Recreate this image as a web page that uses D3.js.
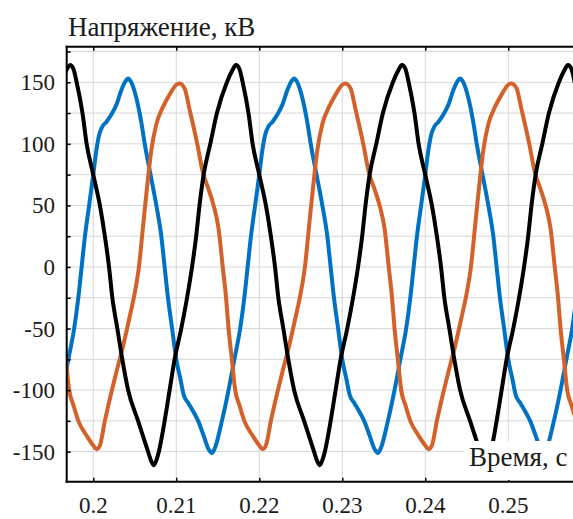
<!DOCTYPE html>
<html lang="ru">
<head>
<meta charset="UTF-8">
<title>Напряжение</title>
<script src="https://d3js.org/d3.v7.min.js"></script>
<style>
  body { margin: 0; background: #fff; }
</style>
</head>
<body>
<div id="chart"></div>
<script>
// values: time in s, voltage in kV
const tBlack = [0.1961,0.1967,0.1972,0.1976,0.1980,0.1987,0.1992,0.2000,0.2008,0.2014,0.2019,0.2023,0.2029,0.2035,0.2042,0.2054,0.2066,0.2070,0.2073,0.2076,0.2079,0.2086,0.2092,0.2098,0.2106,0.2113,0.2119,0.2124,0.2128,0.2133,0.2141,0.2149,0.2161,0.2167,
  0.2172,0.2176,0.2180,0.2187,0.2192,0.2200,0.2208,0.2214,0.2219,0.2223,0.2229,0.2235,0.2242,0.2254,0.2266,0.2270,0.2273,0.2276,0.2279,0.2286,0.2292,0.2298,0.2306,0.2313,0.2319,0.2324,0.2328,0.2333,0.2341,0.2349,0.2361,0.2367,
  0.2372,0.2376,0.2380,0.2387,0.2392,0.2400,0.2408,0.2414,0.2419,0.2423,0.2429,0.2435,0.2442,0.2454,0.2466,0.2470,0.2473,0.2476,0.2479,0.2486,0.2492,0.2498,0.2506,0.2513,0.2519,0.2524,0.2528,0.2533,0.2541,0.2549,0.2561,0.2567,
  0.2572,0.2576,0.2580];
const vBlack = [150,159,164,161,150,125,100,75,50,25,0,-25,-50,-75,-100,-125,-150,-158,-161,-157,-150,-125,-100,-75,-50,-25,0,25,50,75,100,125,150,159,
  164,161,150,125,100,75,50,25,0,-25,-50,-75,-100,-125,-150,-158,-161,-157,-150,-125,-100,-75,-50,-25,0,25,50,75,100,125,150,159,
  164,161,150,125,100,75,50,25,0,-25,-50,-75,-100,-125,-150,-158,-161,-157,-150,-125,-100,-75,-50,-25,0,25,50,75,100,125,150,159,
  164,161,150];

const tBlue = [0.1963,0.1970,0.1977,0.1982,0.1986,0.1990,0.1995,0.2000,0.2004,0.2007,0.2011,0.2016,0.2022,0.2028,0.2034,0.2040,0.2042,0.2045,0.2052,0.2058,0.2062,0.2069,0.2076,0.2082,0.2086,0.2090,0.2095,0.2100,0.2105,0.2109,0.2115,0.2121,0.2127,0.2133,0.2139,0.2143,0.2146,0.2155,
  0.2163,0.2170,0.2177,0.2182,0.2186,0.2190,0.2195,0.2200,0.2204,0.2207,0.2211,0.2216,0.2222,0.2228,0.2234,0.2240,0.2242,0.2245,0.2252,0.2258,0.2262,0.2269,0.2276,0.2282,0.2286,0.2290,0.2295,0.2300,0.2305,0.2309,0.2315,0.2321,0.2327,0.2333,0.2339,0.2343,0.2346,0.2355,
  0.2363,0.2370,0.2377,0.2382,0.2386,0.2390,0.2395,0.2400,0.2404,0.2407,0.2411,0.2416,0.2422,0.2428,0.2434,0.2440,0.2442,0.2445,0.2452,0.2458,0.2462,0.2469,0.2476,0.2482,0.2486,0.2490,0.2495,0.2500,0.2505,0.2509,0.2515,0.2521,0.2527,0.2533,0.2539,0.2543,0.2546,0.2555,
  0.2563,0.2570,0.2577,0.2582];
const vBlue = [-100,-75,-50,-25,0,25,50,75,96,107,114,118,124,132,144,152,153,151,137,117,100,75,50,25,0,-25,-50,-75,-91,-104,-111,-118,-126,-137,-148,-151,-148,-125,
  -100,-75,-50,-25,0,25,50,75,96,107,114,118,124,132,144,152,153,151,137,117,100,75,50,25,0,-25,-50,-75,-91,-104,-111,-118,-126,-137,-148,-151,-148,-125,
  -100,-75,-50,-25,0,25,50,75,96,107,114,118,124,132,144,152,153,151,137,117,100,75,50,25,0,-25,-50,-75,-91,-104,-111,-118,-126,-137,-148,-151,-148,-125,
  -100,-75,-50,-25];

const tOrange = [0.1956,0.1960,0.1963,0.1967,0.1971,0.1976,0.1982,0.1992,0.2000,0.2004,0.2008,0.2014,0.2020,0.2028,0.2036,0.2044,0.2050,0.2055,0.2060,0.2065,0.2070,0.2076,0.2084,0.2092,0.2100,0.2104,0.2110,0.2116,0.2125,0.2132,0.2139,0.2145,0.2151,
  0.2156,0.2160,0.2163,0.2167,0.2171,0.2176,0.2182,0.2192,0.2200,0.2204,0.2208,0.2214,0.2220,0.2228,0.2236,0.2244,0.2250,0.2255,0.2260,0.2265,0.2270,0.2276,0.2284,0.2292,0.2300,0.2304,0.2310,0.2316,0.2325,0.2332,0.2339,0.2345,0.2351,
  0.2356,0.2360,0.2363,0.2367,0.2371,0.2376,0.2382,0.2392,0.2400,0.2404,0.2408,0.2414,0.2420,0.2428,0.2436,0.2444,0.2450,0.2455,0.2460,0.2465,0.2470,0.2476,0.2484,0.2492,0.2500,0.2504,0.2510,0.2516,0.2525,0.2532,0.2539,0.2545,0.2551,
  0.2556,0.2560,0.2563,0.2567,0.2571,0.2576,0.2582];
const vOrange = [0,-25,-50,-75,-100,-112,-125,-137,-145,-148,-145,-125,-107,-85,-64,-40,-21,0,33,66,95,116,130,140,148,149,145,128,101,77,63,50,31,
  0,-25,-50,-75,-100,-112,-125,-137,-145,-148,-145,-125,-107,-85,-64,-40,-21,0,33,66,95,116,130,140,148,149,145,128,101,77,63,50,31,
  0,-25,-50,-75,-100,-112,-125,-137,-145,-148,-145,-125,-107,-85,-64,-40,-21,0,33,66,95,116,130,140,148,149,145,128,101,77,63,50,31,
  0,-25,-50,-75,-100,-112,-125];

const xTicks = [0.2, 0.21, 0.22, 0.23, 0.24, 0.25];
const xTickLabels = ["0.2", "0.21", "0.22", "0.23", "0.24", "0.25"];
const yTicks = [-150, -100, -50, 0, 50, 100, 150];
const yGrid = [-150, -125, -100, -75, -50, -25, 0, 25, 50, 75, 100, 125, 150, 175];

const series = [
  { t: tBlue, v: vBlue, color: "#0072C4" },
  { t: tOrange, v: vOrange, color: "#D2622A" },
  { t: tBlack, v: vBlack, color: "#000000" }
];

const serif = "Liberation Serif";
const W = 573, H = 519;
const plotLeft = 66.7, plotTop = 46.7, plotBottom = 481.7, plotRight = 573;

const x = d3.scaleLinear().domain([0.1968, 0.2578]).range([plotLeft, plotRight]);
const y = d3.scaleLinear().domain([-174.4, 178.9]).range([plotBottom, plotTop]);

const svg = d3.select("#chart").append("svg")
  .attr("width", W).attr("height", H);

svg.append("defs").append("clipPath").attr("id", "clip")
  .append("rect")
  .attr("x", plotLeft).attr("y", plotTop)
  .attr("width", plotRight - plotLeft).attr("height", plotBottom - plotTop);

// grid
const grid = svg.append("g").attr("stroke", "#d6d6d6").attr("stroke-width", 1);
grid.selectAll(".hg").data(yGrid).join("line")
  .attr("x1", plotLeft).attr("x2", plotRight)
  .attr("y1", d => y(d)).attr("y2", d => y(d));
grid.selectAll(".vg").data(xTicks).join("line")
  .attr("x1", d => x(d)).attr("x2", d => x(d))
  .attr("y1", plotTop).attr("y2", plotBottom);

// curves
const line = d3.line().curve(d3.curveMonotoneX);
const plot = svg.append("g").attr("clip-path", "url(#clip)");
series.forEach(s => {
  const pts = s.t.map((t, i) => [x(t), y(s.v[i])]);
  plot.append("path")
    .attr("d", line(pts))
    .attr("fill", "none")
    .attr("stroke", s.color)
    .attr("stroke-width", 4)
    .attr("stroke-linejoin", "round")
    .attr("stroke-linecap", "round");
});

// axes
const yAxis = svg.append("g").attr("transform", `translate(${plotLeft},0)`)
  .call(d3.axisRight(y).tickValues(yGrid).tickSize(4).tickFormat(""));
const xTop = svg.append("g").attr("transform", `translate(0,${plotTop})`)
  .call(d3.axisBottom(x).tickValues(xTicks).tickSize(4).tickFormat(""));
const xBottom = svg.append("g").attr("transform", `translate(0,${plotBottom})`)
  .call(d3.axisTop(x).tickValues(xTicks).tickSize(4).tickFormat(""));
[yAxis, xTop, xBottom].forEach(g => {
  g.select(".domain").remove();
  g.selectAll(".tick line").attr("stroke", "#000").attr("stroke-width", 1.5);
});

svg.append("line").attr("x1", plotLeft).attr("x2", plotLeft).attr("y1", plotTop - 1).attr("y2", plotBottom + 1)
  .attr("stroke", "#000").attr("stroke-width", 2);
svg.append("line").attr("x1", plotLeft - 1).attr("x2", plotRight).attr("y1", plotTop).attr("y2", plotTop)
  .attr("stroke", "#000").attr("stroke-width", 2);
svg.append("line").attr("x1", plotLeft - 1).attr("x2", plotRight).attr("y1", plotBottom).attr("y2", plotBottom)
  .attr("stroke", "#000").attr("stroke-width", 2);

// tick labels
svg.append("g").selectAll("text").data(yTicks).join("text")
  .attr("x", 55).attr("y", d => y(d) + 8)
  .attr("text-anchor", "end")
  .attr("font-family", serif).attr("font-size", 23).attr("fill", "#1a1a1a")
  .text(d => d);

svg.append("g").selectAll("text").data(xTicks).join("text")
  .attr("x", d => x(d)).attr("y", 513)
  .attr("text-anchor", "middle")
  .attr("font-family", serif).attr("font-size", 23).attr("fill", "#1a1a1a")
  .text((d, i) => xTickLabels[i]);

// titles
svg.append("text").attr("x", 68).attr("y", 36)
  .attr("font-family", serif).attr("font-size", 27).attr("fill", "#1a1a1a")
  .text("Напряжение, кВ");

svg.append("rect").attr("x", 464).attr("y", 441)
  .attr("width", 120).attr("height", 39).attr("fill", "#fff");
svg.append("text").attr("x", 469).attr("y", 466)
  .attr("font-family", serif).attr("font-size", 27).attr("fill", "#1a1a1a")
  .text("Время, с");
</script>
</body>
</html>
